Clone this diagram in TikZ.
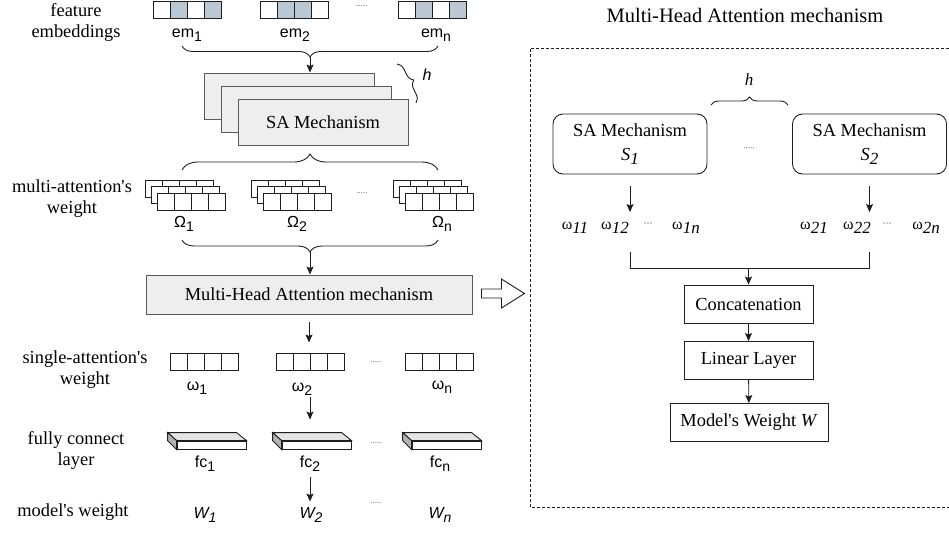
\documentclass[tikz,border=0pt]{standalone}
\usepackage{fontspec}
\setmainfont{Liberation Serif}
\setsansfont{Liberation Sans}
\usetikzlibrary{positioning, arrows.meta, decorations.pathreplacing, calc}

\definecolor{embblue}{RGB}{186,200,211}
\definecolor{panelgray}{RGB}{238,238,238}
\definecolor{edgegray}{RGB}{90,90,90}
\definecolor{inkgray}{RGB}{30,30,30}

% lowered index, as the labels print it
\newcommand{\lowsub}[2][14]{\raisebox{-4.5pt}{\fontsize{#1}{#1}\selectfont #2}}
\newcommand{\sq}{\textquotesingle}

\begin{document}
\begin{tikzpicture}[x=1pt, y=-1pt, line width=0.9pt,
  font=\fontsize{18.4}{21}\selectfont,
  lbl/.style={align=center, inner sep=0pt},
  tag/.style={font=\sffamily\fontsize{16}{18}\selectfont, inner sep=1pt, anchor=base},
  wtag/.style={tag, font=\sffamily\itshape\fontsize{16}{18}\selectfont},
  osub/.style={font=\fontsize{16}{18}\selectfont, inner sep=1pt, anchor=base},
  cell/.style={draw=inkgray, minimum width=17pt, minimum height=17pt, inner sep=0pt, outer sep=0pt},
  sabox/.style={draw=edgegray, fill=panelgray, minimum width=170pt, minimum height=46pt},
  mhabox/.style={draw=edgegray, fill=panelgray, minimum width=326pt, minimum height=39pt},
  headbox/.style={draw=inkgray, rounded corners=10pt, minimum width=154pt,
    minimum height=60pt, align=center, inner sep=2pt},
  stepbox/.style={draw=inkgray, minimum width=129pt, minimum height=38pt},
  arrow/.style={-{Stealth[length=8pt, width=7pt, inset=1.5pt]}, inkgray},
  brc/.style={decorate, decoration={brace, amplitude=#1}, inkgray},
  more/.style={font=\fontsize{9}{9}\selectfont, text=black!60, inner sep=0pt},
]
  \useasboundingbox (0,0) rectangle (949,533);

  % left column labels
  \node[lbl] (lfeat)   at (76,23)  {feature\\embeddings};
  \node[lbl] (lmulti)  at (72,199) {multi-attention\sq s\\weight};
  \node[lbl] (lsingle) at (85,370) {single-attention\sq s\\weight};
  \node[lbl] (lfc)     at (76,450) {fully connect\\layer};
  \node[lbl] (lmodel)  at (73,512) {model\sq s weight};

  % feature embeddings
  \foreach \g/\x/\fa/\fb/\fc/\fd in {1/153/white/embblue/white/embblue,
      2/260/white/embblue/embblue/white, n/398/white/embblue/white/embblue}
    \foreach \f [count=\i from 0] in {\fa,\fb,\fc,\fd}
      \node[cell, fill=\f] (emc\g-\i) at (\x+8.5+17*\i, 9.5) {};
  \node[tag] (em1) at (187,37) {em\lowsub{1}};
  \node[tag] (em2) at (295,37) {em\lowsub{2}};
  \node[tag] (emn) at (436,37) {em\lowsub{n}};
  \node[more] (emdots) at (362,6) {.....};

  \draw[brc=11pt] (438,46) -- (182,46);
  \coordinate (embtip) at (310,57);

  % stacked SA heads
  \node[sabox] (sa1) at (289,96)  {};
  \node[sabox] (sa2) at (306,109) {};
  \node[sabox] (sa3) at (323,122) {SA Mechanism};
  \draw[arrow] (embtip) -- (embtip |- sa1.north);
  \draw[brc=8pt] (397,64) -- (416,103);
  \node[wtag, anchor=center] (hleft) at (427,75) {h};

  \draw[brc=16pt] (182,170) -- (438,170);

  % multi-attention's weight
  \foreach \g/\x in {1/157, 2/263, n/405}
    \foreach \k in {2,1,0}
      \foreach \i in {0,...,3}
        \node[cell, fill=white] (mwc\g-\k-\i) at (\x-6*\k+8.5+17*\i, 201.5-6.5*\k) {};
  \node[tag] (mw1) at (184,227) {Ω\lowsub{1}};
  \node[tag] (mw2) at (297,227) {Ω\lowsub{2}};
  \node[tag] (mwn) at (442,227) {Ω\lowsub{n}};
  \node[more] (mwdots) at (362,193) {.....};

  \draw[brc=12pt] (438,240) -- (182,240);
  \coordinate (mwtip) at (310,252);

  \node[mhabox] (mha) at (309,294.5) {Multi-Head Attention mechanism};
  \draw[arrow] (mwtip) -- (mwtip |- mha.north);
  \draw[inkgray, fill=white] ([xshift=9pt, yshift=5.5pt]mha.east)
    -- ++(20,0) -- ++(0,-10) -- ++(23,14.5) -- ++(-23,14.5) -- ++(0,-10) -- ++(-20,0) -- cycle;

  % single-attention's weight
  \foreach \g/\x in {1/170, 2/276, n/405}
    \foreach \i in {0,...,3}
      \node[cell] (swc\g-\i) at (\x+8.5+17*\i, 362) {};
  \node[tag] (sw1) at (197,390) {ω\lowsub{1}};
  \node[tag] (sw2) at (302,391) {ω\lowsub{2}};
  \node[tag] (swn) at (442,389) {ω\lowsub{n}};
  \node[more] (swdots) at (376,362) {.....};
  \draw[arrow, shorten <=8pt, shorten >=11pt] (mha.south) -- (mha.south |- swc2-0.north);

  % fully connect layer
  \foreach \g/\x in {1/177, 2/282, n/412}{
    \node[draw=inkgray, fill=white, minimum width=69pt, minimum height=8pt, inner sep=0pt] (fc\g) at (\x+34.5,445) {};
    \draw[inkgray, fill=black!10] (fc\g.north west) -- ++(-9,-8) -- ++(69,0) -- (fc\g.north east) -- cycle;
    \draw[inkgray, fill=black!30] (fc\g.north west) -- ++(-9,-8) -- ++(0,8) -- (fc\g.south west) -- cycle;
  }
  \node[tag] (fcl1) at (205,467) {fc\lowsub{1}};
  \node[tag] (fcl2) at (310,467) {fc\lowsub{2}};
  \node[tag] (fcln) at (440,467) {fc\lowsub{n}};
  \node[more] (fcdots) at (376,443) {.....};
  \draw[arrow, shorten <=26pt, shorten >=21pt] (swc2-1.south east) -- (swc2-1.south east |- fc2.north);

  % model's weight
  \node[wtag] (wgt1) at (205,518) {W\lowsub{1}};
  \node[wtag] (wgt2) at (311,518) {W\lowsub{2}};
  \node[wtag] (wgtn) at (440,518) {W\lowsub{n}};
  \node[more] (wgtdots) at (376,503) {.....};
  \draw[arrow, shorten <=4pt, shorten >=4pt] (fcl2.south) -- (fcl2.south |- wgt2.north);

  % right panel: inside the multi-head block
  \node[font=\fontsize{20.5}{23}\selectfont] (title) at (745,15) {Multi-Head Attention mechanism};
  \draw[inkgray, dash pattern=on 3pt off 2pt] (949,48) -| (530,507) -- (949,507);

  \node[headbox] (sah1) at (630,144)   {SA Mechanism\\[3pt]\textit{S}\lowsub[17]{\textit{1}}};
  \node[headbox] (sah2) at (869.5,144) {SA Mechanism\\[3pt]\textit{S}\lowsub[17]{\textit{2}}};
  \node[more] (sadots) at (749,148) {.....};
  \draw[brc=8pt] (711,105) -- (788,105);
  \node[font=\itshape\fontsize{17}{19}\selectfont, inner sep=1pt] (hright) at (749,80) {h};

  \node[osub] (om11) at (575,229) {ω\lowsub[17]{\textit{11}}};
  \node[osub] (om12) at (615,229) {ω\lowsub[17]{\textit{12}}};
  \node[osub] (od1)  at (648,226) {\fontsize{9}{9}\selectfont ···};
  \node[osub] (om1n) at (686,229) {ω\lowsub[17]{\textit{1n}}};
  \node[osub] (om21) at (814,229) {ω\lowsub[17]{\textit{21}}};
  \node[osub] (om22) at (857,229) {ω\lowsub[17]{\textit{22}}};
  \node[osub] (od2)  at (887,226) {\fontsize{9}{9}\selectfont ···};
  \node[osub] (om2n) at (926,229) {ω\lowsub[17]{\textit{2n}}};

  \draw[arrow, shorten <=12pt, shorten >=8pt] (sah1.south) -- (sah1.south |- om12.north);
  \draw[arrow, shorten <=12pt, shorten >=8pt] (sah2.south) -- (sah2.south |- om22.north);

  \node[stepbox] (concat) at (748.5,304)   {Concatenation};
  \node[stepbox] (linear) at (748.5,360.5) {Linear Layer};
  \node[stepbox, minimum width=158pt] (mweight) at (749,422.5) {Model\sq s Weight \textit{W}};

  \coordinate (jl) at ($(sah1.south)+(0,78)$);
  \coordinate (jr) at ($(sah2.south)+(0,78)$);
  \coordinate (jm) at ($(jl)+(0,16)$);
  \draw[inkgray] (jl) -- (jm) -| (jr);
  \draw[arrow] (jm -| concat.north) -- (concat.north);
  \draw[arrow] (concat) -- (linear);
  \draw[arrow] (linear) -- (mweight);
\end{tikzpicture}
\end{document}
